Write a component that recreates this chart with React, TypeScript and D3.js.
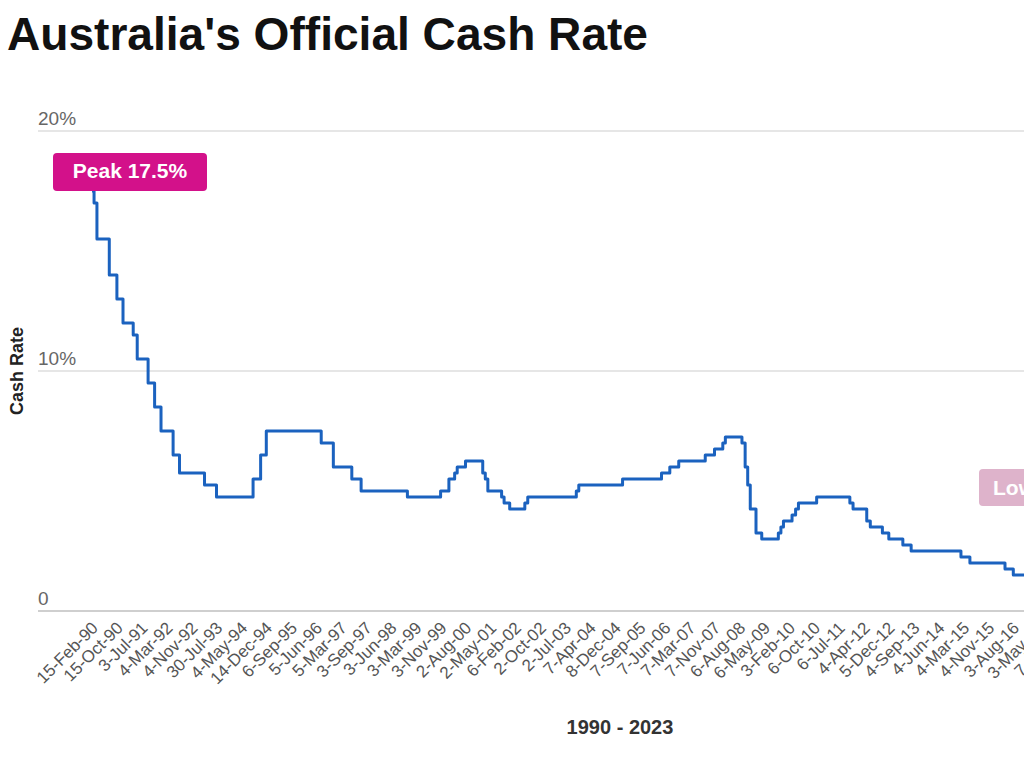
import React from "react";
import * as d3 from "d3";

// Category tick labels on the x axis (every 8th meeting)
const tickLabels = [
  "15-Feb-90", "15-Oct-90", "3-Jul-91", "4-Mar-92", "4-Nov-92", "30-Jul-93", "4-May-94", "14-Dec-94",
  "6-Sep-95", "5-Jun-96", "5-Mar-97", "3-Sep-97", "3-Jun-98", "3-Mar-99", "3-Nov-99", "2-Aug-00",
  "2-May-01", "6-Feb-02", "2-Oct-02", "2-Jul-03", "7-Apr-04", "8-Dec-04", "7-Sep-05", "7-Jun-06",
  "7-Mar-07", "7-Nov-07", "6-Aug-08", "6-May-09", "3-Feb-10", "6-Oct-10", "6-Jul-11", "4-Apr-12",
  "5-Dec-12", "4-Sep-13", "4-Jun-14", "4-Mar-15", "4-Nov-15", "3-Aug-16", "3-May-17", "7-Feb-18",
  "6-Nov-18", "6-Aug-19", "5-May-20", "2-Feb-21", "2-Nov-21", "2-Aug-22", "2-May-23",
];

// Dates on which the cash rate changed, and the new rate (%)
const changeDates = [
  "15-Feb-90", "7-Mar-90", "4-Apr-90", "2-Aug-90", "15-Oct-90", "18-Dec-90", "4-Apr-91", "16-May-91",
  "3-Sep-91", "6-Nov-91", "8-Jan-92", "6-May-92", "8-Jul-92", "23-Mar-93", "30-Jul-93", "17-Aug-94",
  "24-Oct-94", "14-Dec-94", "31-Jul-96", "11-Dec-96", "23-May-97", "30-Jul-97", "2-Dec-98", "3-Nov-99",
  "2-Feb-00", "5-Apr-00", "3-May-00", "2-Aug-00", "7-Feb-01", "7-Mar-01", "4-Apr-01", "5-Sep-01",
  "3-Oct-01", "5-Dec-01", "8-May-02", "5-Jun-02", "5-Nov-03", "3-Dec-03", "2-Mar-05", "3-May-06",
  "2-Aug-06", "8-Nov-06", "8-Aug-07", "7-Nov-07", "6-Feb-08", "5-Mar-08", "3-Sep-08", "8-Oct-08",
  "5-Nov-08", "3-Dec-08", "4-Feb-09", "8-Apr-09", "7-Oct-09", "4-Nov-09", "2-Dec-09", "3-Mar-10",
  "7-Apr-10", "5-May-10", "3-Nov-10", "2-Nov-11", "7-Dec-11", "2-May-12", "6-Jun-12", "3-Oct-12",
  "5-Dec-12", "8-May-13", "7-Aug-13", "4-Feb-15", "6-May-15", "4-May-16", "3-Aug-16", "5-Jun-19",
  "3-Jul-19", "2-Oct-19", "4-Mar-20", "19-Mar-20", "4-Nov-20", "4-May-22", "8-Jun-22", "6-Jul-22",
  "3-Aug-22", "7-Sep-22", "5-Oct-22", "2-Nov-22", "7-Dec-22", "8-Feb-23", "8-Mar-23", "3-May-23",
  "7-Jun-23", "6-Sep-23",
];
const changeRates = [
  17.5, 17.0, 15.5, 14.0, 13.0, 12.0, 11.5, 10.5,
  9.5, 8.5, 7.5, 6.5, 5.75, 5.25, 4.75, 5.5,
  6.5, 7.5, 7.0, 6.0, 5.5, 5.0, 4.75, 5.0,
  5.5, 5.75, 6.0, 6.25, 5.75, 5.5, 5.0, 4.75,
  4.5, 4.25, 4.5, 4.75, 5.0, 5.25, 5.5, 5.75,
  6.0, 6.25, 6.5, 6.75, 7.0, 7.25, 7.0, 6.0,
  5.25, 4.25, 3.25, 3.0, 3.25, 3.5, 3.75, 4.0,
  4.25, 4.5, 4.75, 4.5, 4.25, 3.75, 3.5, 3.25,
  3.0, 2.75, 2.5, 2.25, 2.0, 1.75, 1.5, 1.25,
  1.0, 0.75, 0.5, 0.25, 0.1, 0.35, 0.85, 1.35,
  1.85, 2.35, 2.6, 2.85, 3.1, 3.35, 3.6, 3.85,
  4.1, 4.1,
];

const yTicks = [0, 10, 20];
const yTickLabels = ["0", "10%", "20%"];

const FONT = "'Liberation Sans', Arial, Helvetica, sans-serif";
const MAGENTA = "#d3118a";

export default function App() {
  const parse = d3.timeParse("%d-%b-%y");
  const tickDates = tickLabels.map((s) => parse(s) as Date);
  const x0 = 92;
  const step = 24.9;
  const x = d3
    .scaleTime()
    .domain(tickDates)
    .range(tickDates.map((_, i) => x0 + i * step));
  const y = d3.scaleLinear().domain([0, 20]).range([611, 131]);

  const data = changeDates.map((s, i) => ({ d: parse(s) as Date, v: changeRates[i] }));
  const line = d3
    .line<{ d: Date; v: number }>()
    .x((p) => x(p.d))
    .y((p) => y(p.v))
    .curve(d3.curveStepAfter);

  const peak = data[0];
  const peakX = x(peak.d);
  const peakY = y(peak.v);

  return (
    <svg
      width={1024}
      height={768}
      style={{ position: "absolute", left: 0, top: 0, background: "#fff" }}
      fontFamily={FONT}
    >
      <text x={7} y={50} fontSize={46} fontWeight="bold" fill="#111" textLength={641} lengthAdjust="spacingAndGlyphs">
        Australia's Official Cash Rate
      </text>

      {/* grid lines and y labels */}
      {yTicks.map((t, i) => (
        <g key={t}>
          <line
            x1={38}
            x2={1024}
            y1={y(t)}
            y2={y(t)}
            stroke={t === 0 ? "#cfcfcf" : "#dedede"}
            strokeWidth={t === 0 ? 2 : 1.5}
          />
          <text x={38} y={y(t) - 6} fontSize={19} fill="#666">
            {yTickLabels[i]}
          </text>
        </g>
      ))}

      {/* y axis title */}
      <text
        transform={`translate(23, ${(y(0) + y(20)) / 2}) rotate(-90)`}
        textAnchor="middle"
        fontSize={18}
        fontWeight="bold"
        fill="#222"
      >
        Cash Rate
      </text>

      {/* x tick labels */}
      {tickDates.map((d, i) => (
        <text
          key={tickLabels[i]}
          transform={`translate(${x(d) + 7}, ${y(0) + 18}) rotate(-45)`}
          textAnchor="end"
          fontSize={17}
          fill="#555"
        >
          {tickLabels[i]}
        </text>
      ))}

      {/* x axis title */}
      <text x={620} y={734} textAnchor="middle" fontSize={20} fontWeight="bold" fill="#333">
        1990 - 2023
      </text>

      {/* the line */}
      <path d={line(data) || ""} fill="none" stroke="#1b62bf" strokeWidth={3} strokeLinejoin="round" />

      {/* peak annotation */}
      <g>
        <rect x={peakX - 39} y={peakY - 38} width={154} height={38} rx={4} fill={MAGENTA} />
        <text x={peakX - 39 + 77} y={peakY - 13} textAnchor="middle" fontSize={21} fontWeight="bold" fill="#fff">
          Peak 17.5%
        </text>
      </g>

      {/* low annotation (faded) */}
      <g>
        <rect x={979} y={469} width={132} height={37} rx={4} fill="#deb3cb" />
        <text x={993} y={495} fontSize={21} fontWeight="bold" fill="#fff">
          Low 0.1%
        </text>
      </g>
    </svg>
  );
}
